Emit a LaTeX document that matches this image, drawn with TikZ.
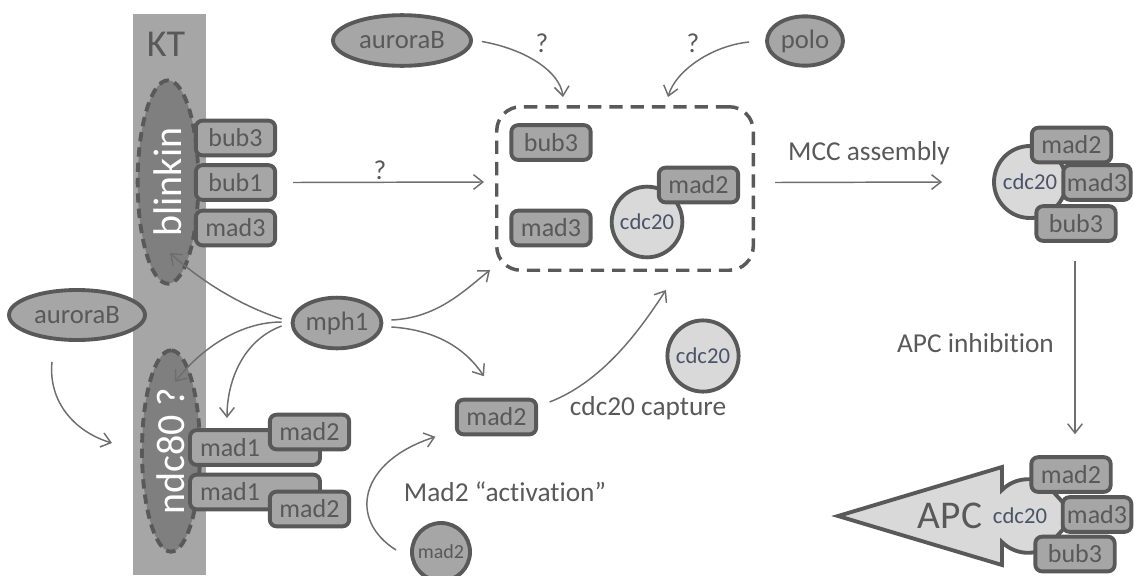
\documentclass[tikz,border=0pt]{standalone}
\usepackage{fontspec}
\setmainfont{Carlito}[Ligatures=NoCommon]
\usetikzlibrary{arrows.meta,shapes.geometric,calc}

\definecolor{ink}{HTML}{595959}
\definecolor{boxfill}{HTML}{A6A6A6}
\definecolor{ktbar}{HTML}{A6A6A6}
\definecolor{scaffoldfill}{HTML}{7F7F7F}
\definecolor{pale}{HTML}{D9D9D9}
\definecolor{wire}{HTML}{6E6E6E}
\definecolor{cdctext}{HTML}{4A5468}

\tikzset{
  protein/.style={draw=ink, fill=boxfill, line width=2.9pt, rounded corners=5pt,
    minimum width=59.5pt, minimum height=26pt, inner sep=0pt, text=ink,
    font=\fontsize{19.5}{20}\selectfont},
  kinase/.style={ellipse, draw=ink, fill=boxfill, line width=2.9pt, inner sep=0pt,
    text=ink, font=\fontsize{20}{21}\selectfont},
  scaffold/.style={ellipse, draw=ink, fill=scaffoldfill, line width=2.9pt,
    dash pattern=on 7pt off 4.5pt, inner sep=0pt, rotate=90, text=white,
    font=\fontsize{30}{31}\selectfont},
  cdc/.style={circle, draw=ink, fill=pale, line width=2.9pt, inner sep=0pt,
    minimum size=53pt, text=cdctext, font=\fontsize{17}{18}\selectfont},
  link/.style={draw=wire, line width=1.1pt, -{Straight Barb[length=7pt,width=11pt]}},
  note/.style={text=ink, font=\fontsize{20.5}{22}\selectfont, inner sep=0pt},
}

\begin{document}
\begin{tikzpicture}[x=0.75pt, y=-0.75pt]
\useasboundingbox (0,0) rectangle (1134,575);

% kinetochore bar
\fill[ktbar] (133,14) rectangle (206,575);
\node[text=ink, font=\fontsize{28.5}{30}\selectfont] (kt) at (166,44) {KT};

% kinetochore scaffolds
\node[scaffold, minimum width=152.5pt, minimum height=45.5pt] (blinkin) at (168,182) {blinkin};
\node[scaffold, minimum width=151pt, minimum height=43.5pt] (ndc) at (171,451) {ndc80 ?};

% proteins bound to blinkin
\node[protein] (bub3L) at (235.5,138) {bub3};
\node[protein] (bub1L) at (235.5,182.5) {bub1};
\node[protein] (mad3L) at (235.5,228) {mad3};

% mad1/mad2 on ndc80
\node[protein, minimum width=97.5pt, text width=82.5pt, align=left, inner xsep=7.5pt] (mad1a) at (255,447.5) {mad1};
\node[protein] (mad2a) at (309.5,432) {mad2};
\node[protein, minimum width=97.5pt, text width=82.5pt, align=left, inner xsep=7.5pt] (mad1b) at (255,492) {mad1};
\node[protein] (mad2b) at (309.5,509) {mad2};

% kinases
\node[kinase, minimum width=102pt, minimum height=37.5pt] (auroraL) at (77,315) {auroraB};
\node[kinase, minimum width=103.5pt, minimum height=38pt] (auroraT) at (402,40.5) {auroraB};
\node[kinase, minimum width=57pt, minimum height=37pt] (polo) at (805,41) {polo};
\node[kinase, minimum width=66.5pt, minimum height=38pt] (mph1) at (337,323) {mph1};

% pre-MCC assembly compartment
\node[draw=ink, line width=2.6pt, dash pattern=on 10pt off 6pt, rounded corners=18pt,
      minimum width=192.4pt, minimum height=122.6pt] (mcc) at (625,188.5) {};
\node[protein] (bub3M) at (551,142.5) {bub3};
\node[protein] (mad3M) at (551,228) {mad3};
\node[cdc] (cdcM) at (647,222) {cdc20};
\node[protein] (mad2M) at (698.5,185) {mad2};

% free cdc20, mad2 intermediates
\node[cdc, minimum size=53.4pt] (cdcF) at (703,356) {cdc20};
\node[protein] (mad2C) at (496.5,417) {mad2};
\node[circle, draw=ink, fill=boxfill, line width=2.9pt, inner sep=0pt, minimum size=43.5pt,
      text=ink, font=\fontsize{15}{16}\selectfont] (mad2O) at (441,552) {mad2};

% assembled MCC
\node[cdc, minimum size=54pt] (cdcR) at (1030,182) {cdc20};
\node[protein] (mad2R) at (1071.5,145) {mad2};
\node[protein, minimum width=50.5pt] (mad3R) at (1097,182.5) {mad3};
\node[protein] (bub3R) at (1076,223.5) {bub3};

% APC bound by the MCC
\fill[pale, draw=ink, line width=2.9pt, line join=miter]
  (838,516) -- (1002,467) -- (1002,490)
  arc[start angle=225, end angle=300, radius=36.8] -- (1075,516) --
  ($(1028,516)+(60:36.8)$) arc[start angle=60, end angle=135, radius=36.8]
  -- (1002,565) -- cycle;
\node[text=ink, font=\fontsize{29.5}{31}\selectfont, inner sep=0pt] (apc) at (950,516) {APC};
\node[text=cdctext, font=\fontsize{17}{18}\selectfont, inner sep=0pt] (cdcA) at (1020,516) {cdc20};
\node[protein] (mad2A) at (1071,474.5) {mad2};
\node[protein, minimum width=51.5pt] (mad3A) at (1097,514.5) {mad3};
\node[protein] (bub3A) at (1075,554) {bub3};

% regulation arrows
\draw[link] ($(auroraT.east)+(9,1)$) .. controls +(45,8) and +(-3,-25) .. ($(mcc.north)+(-62,-8)$);
\draw[link] ($(polo.west)+(-16,1)$) .. controls +(-39,4) and +(7,-25) .. ($(mcc.north)+(43,-8)$);
\node[note] (qa) at (542,43) {?};
\node[note] (qp) at (693,43) {?};

\draw[link] ($(bub1L.east)+(16,0)$) -- ($(mcc.west)+(-11,-6.5)$);
\node[note] (qb) at (380,170) {?};

\draw[link] ($(mcc.east)+(20,-6)$) -- ($(cdcR.west)+(-50,0)$);
\node[note] (mccl) at (869,153) {MCC assembly};

\draw[link] ($(bub3R.south)+(-1,18)$) -- ($(mad2A.north)+(4,-21)$);
\node[note] (apcl) at (975.5,343) {APC inhibition};

% mph1 targets
\draw[link] ($(mph1.west)+(-9,-4)$) .. controls +(-43,-14) and +(30,27) .. ($(blinkin.center)+(2,71)$);
\draw[link] ($(mph1.west)+(-9,-1)$) .. controls +(-43,0) and +(25,-32) .. ($(ndc.center)+(4,-69)$);
\draw[link] ($(mph1.west)+(-9,3)$) .. controls +(-38,14) and +(0,-38) .. ($(mad1a.center)+(-28,-29.5)$);
\draw[link] ($(mph1.east)+(8,-3)$) .. controls +(45,-2) and +(-27,22) .. ($(mcc.south west)+(-5,-2)$);
\draw[link] ($(mph1.east)+(8,4)$) .. controls +(45,3) and +(-19,-28) .. ($(mad2C.north)+(-12.5,-21.5)$);

% aurora B on ndc80
\draw[link] ($(auroraL.south)+(-25,20)$) .. controls +(-4,40) and +(-37,-11) .. ($(ndc.center)+(-59,-8)$);

% mad2 activation and cdc20 capture
\draw[link] ($(mad2O.west)+(-14,-2)$) .. controls +(-48,-30) and +(-77,25) .. ($(mad2C.south west)+(-19.5,0.5)$);
\node[note] (actl) at (505,492) {Mad2 “activation”};
\draw[link] ($(mad2C.east)+(11.5,-15)$) .. controls +(57,-22) and +(-21,32) .. ($(mcc.south)+(41,18)$);
\node[note] (capl) at (648,408) {cdc20 capture};

\end{tikzpicture}
\end{document}
